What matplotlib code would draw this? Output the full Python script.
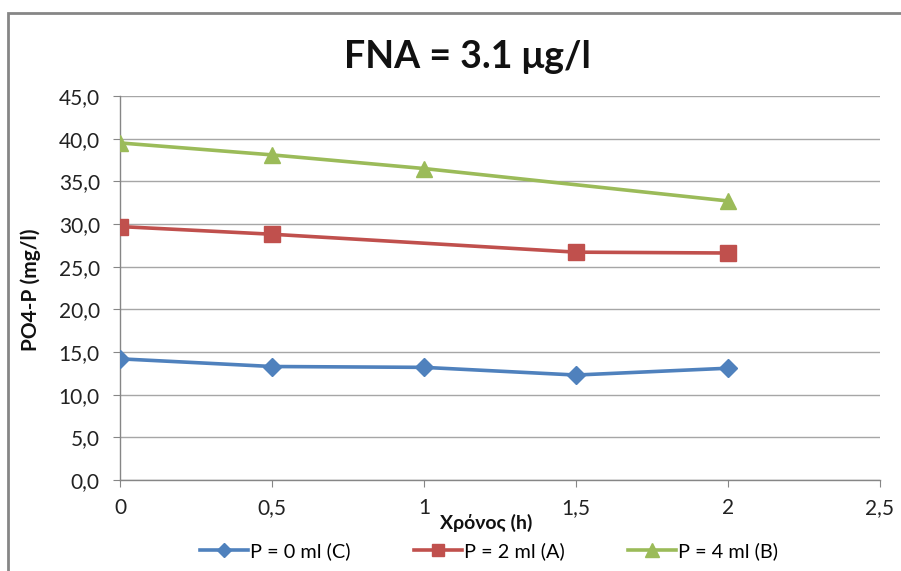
import matplotlib
matplotlib.use("Agg")
import matplotlib.pyplot as plt
from matplotlib.patches import Rectangle
from matplotlib.ticker import FuncFormatter, MultipleLocator

plt.rcParams['font.family'] = ['Lato', 'DejaVu Sans']

# Sampling times (h) and PO4-P concentrations (mg/l)
time_c = [0, 0.5, 1, 1.5, 2]
p0_c = [14.2, 13.3, 13.2, 12.3, 13.1]

time_a = [0, 0.5, 1.5, 2]
p2_a = [29.7, 28.8, 26.7, 26.6]

time_b = [0, 0.5, 1, 2]
p4_b = [39.5, 38.1, 36.5, 32.7]

labels = ["P = 0 ml (C)", "P = 2 ml (A)", "P = 4 ml (B)"]
title = "FNA = 3.1 μg/l"

W, H = 901, 571
fig = plt.figure(figsize=(W / 100, H / 100), dpi=100)
ax = fig.add_axes([120 / W, 1 - 480 / H, 760 / W, 384 / H])

# outer chart frame
fig.patches.append(Rectangle((8 / W, -0.05), 1.2, 1 - 13 / H + 0.05,
                             transform=fig.transFigure, fill=False,
                             edgecolor="#868686", linewidth=2, zorder=0))

blue, red, green = "#4F81BD", "#C0504D", "#9BBB59"
ax.plot(time_c, p0_c, color=blue, lw=2.6, marker="D", ms=9.5,
        label=labels[0], zorder=3)
ax.plot(time_a, p2_a, color=red, lw=2.6, marker="s", ms=11,
        label=labels[1], zorder=3)
ax.plot(time_b, p4_b, color=green, lw=2.6, marker="^", ms=12,
        label=labels[2], zorder=3)

ax.set_xlim(0, 2.5)
ax.set_ylim(0, 45)
ax.yaxis.set_major_locator(MultipleLocator(5))
ax.xaxis.set_major_locator(MultipleLocator(0.5))

def comma(v, fmt):
    return fmt.format(v).replace(".", ",")

ax.yaxis.set_major_formatter(FuncFormatter(lambda v, p: comma(v, "{:.1f}")))
ax.xaxis.set_major_formatter(FuncFormatter(
    lambda v, p: comma(v, "{:g}")))

ax.grid(axis="y", color="#a6a6a6", lw=1)
ax.set_axisbelow(True)
for s in ["top", "right"]:
    ax.spines[s].set_visible(False)
for s in ["left", "bottom"]:
    ax.spines[s].set_color("#868686")
    ax.spines[s].set_linewidth(1)
ax.tick_params(axis="y", direction="out", length=5, color="#868686",
               labelsize=15, labelcolor="#222222", pad=9.5)
ax.tick_params(axis="x", direction="out", length=5, color="#868686",
               labelsize=15, labelcolor="#222222", pad=8)

fig.text(467 / W, 1 - 57 / H, title, ha="center", va="center",
         fontsize=27, fontweight="bold", color="#111111")
fig.text(31 / W, 1 - 290 / H, "PO4-P (mg/l)", ha="center", va="center",
         rotation=90, fontsize=15, fontweight="bold", color="#111111")
fig.text(486 / W, 1 - 523 / H, "Χρόνος (h)", ha="center", va="center",
         fontsize=14, fontweight="bold", color="#111111")

fig.legend(loc="center", bbox_to_anchor=(489 / W, 1 - 551 / H), ncol=3,
           frameon=False, fontsize=14.3, handlelength=2.4, handletextpad=0.1,
           columnspacing=3.2, markerscale=0.8, borderpad=0)

fig.savefig("out.png", dpi=100)
